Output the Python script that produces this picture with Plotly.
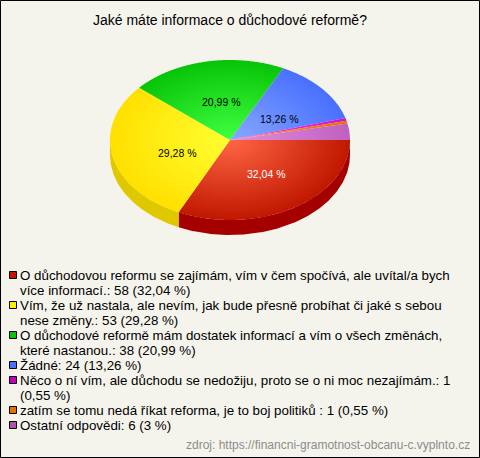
import math
import plotly.graph_objects as go

title = "Jaké máte informace o důchodové reformě?"
counts = [58, 53, 38, 24, 1, 1, 6]
pct_labels = ["32,04 %", "29,28 %", "20,99 %", "13,26 %"]
legend_lines = [
    ["O důchodovou reformu se zajímám, vím v čem spočívá, ale uvítal/a bych", "více informací.: 58 (32,04 %)"],
    ["Vím, že už nastala, ale nevím, jak bude přesně probíhat či jaké s sebou", "nese změny.: 53 (29,28 %)"],
    ["O důchodové reformě mám dostatek informací a vím o všech změnách,", "které nastanou.: 38 (20,99 %)"],
    ["Žádné: 24 (13,26 %)"],
    ["Něco o ní vím, ale důchodu se nedožiju, proto se o ni moc nezajímám.: 1", "(0,55 %)"],
    ["zatím se tomu nedá říkat reforma, je to boj politiků : 1 (0,55 %)"],
    ["Ostatní odpovědi: 6 (3 %)"],
]
source = "zdroj: https://financni-gramotnost-obcanu-c.vyplnto.cz"

inner = ["#FF6644", "#FFFF30", "#40FF40", "#88A8FF", "#FF40FF", "#FF9020", "#E090E0"]
outer = ["#C01800", "#FFE000", "#08C408", "#4870FF", "#D010D0", "#E87000", "#C060C0"]
swatch = ["#C01800", "#FFEE00", "#08C408", "#4870FF", "#C000C0", "#E87000", "#B050B0"]
side = ["#A50000", "#E0C800"]
text_col = ["#FFFFFF", "#000000", "#000000", "#000000"]

CX, CY, RX, RY, DEPTH = 230, 140, 120, 80, 15
LABEL_FX = [0.57, 0.447, 0.34, 0.54]
LABEL_FY = [0.50, 0.78, 0.48, 0.42]
BG = "#F5F4EC"
FONT = "Liberation Sans, Arial, sans-serif"

total = sum(counts)
edges = [0.0]
for c in counts:
    edges.append(edges[-1] + c / total * 2 * math.pi)


def arc(a0, a1, dy=0.0):
    n = max(2, int((a1 - a0) / 0.01))
    ts = [a0 + (a1 - a0) * i / n for i in range(n + 1)]
    return [CX + RX * math.cos(t) for t in ts], [CY + dy + RY * math.sin(t) for t in ts]


fig = go.Figure()

# side wall of the visible front half
for i in range(2):
    a0, a1 = edges[i], min(edges[i + 1], math.pi)
    x0, y0 = arc(a0, a1)
    x1, y1 = arc(a0, a1, DEPTH)
    fig.add_trace(go.Scatter(x=x0 + x1[::-1], y=y0 + y1[::-1], mode="lines", fill="toself",
                             fillcolor=side[i], line=dict(width=0, color=side[i]), hoverinfo="skip"))

# top face slices; the zero-area spurs stretch the gradient box to the whole ellipse
for i in range(len(counts)):
    ax, ay = arc(edges[i], edges[i + 1])
    xs = [CX, CX - RX, CX, CX + RX, CX] + ax + [CX]
    ys = [CY, CY - RY, CY, CY + RY, CY] + ay + [CY]
    fig.add_trace(go.Scatter(
        x=xs, y=ys, mode="lines", fill="toself",
        fillgradient=dict(type="radial", colorscale=[[0, inner[i]], [1, outer[i]]]),
        line=dict(width=0, simplify=False), hoverinfo="skip"))

annotations = [dict(x=CX + 0, y=20, text=title, showarrow=False, xref="x", yref="y",
                    font=dict(family=FONT, size=14, color="#000000"))]

for i, lab in enumerate(pct_labels):
    mid = (edges[i] + edges[i + 1]) / 2
    annotations.append(dict(
        x=CX + RX * LABEL_FX[i] * math.cos(mid), y=CY + RY * LABEL_FY[i] * math.sin(mid),
        text=lab, showarrow=False, xref="x", yref="y",
        font=dict(family=FONT, size=10.5, color=text_col[i])))

# legend
y = 275.5
sx, sy = [], []
for lines in legend_lines:
    sx.append(13)
    sy.append(round(y - 0.5))
    for k, ln in enumerate(lines):
        annotations.append(dict(x=18, y=y + k * 14.5, text=ln, showarrow=False, xanchor="left",
                                xref="x", yref="y", font=dict(family=FONT, size=13.33, color="#000000")))
    y += 15 * len(lines) if len(lines) == 1 else 30
fig.add_trace(go.Scatter(x=sx, y=sy, mode="markers", hoverinfo="skip",
                         marker=dict(symbol="square", size=7, color=swatch,
                                     line=dict(width=1, color="#000000"))))

annotations.append(dict(x=472, y=445, text=source, showarrow=False, xanchor="right", xref="x", yref="y",
                        font=dict(family=FONT, size=12, color="#8C8C8C")))

fig.update_layout(
    width=480, height=458, margin=dict(l=0, r=0, t=0, b=0), showlegend=False,
    paper_bgcolor=BG, plot_bgcolor=BG, annotations=annotations,
    xaxis=dict(range=[0, 480], visible=False, fixedrange=True),
    yaxis=dict(range=[458, 0], visible=False, fixedrange=True),
    shapes=[dict(type="rect", x0=0.5, x1=479.5, y0=0.5, y1=457.5, xref="x", yref="y",
                 line=dict(color="#000000", width=1))],
)
fig.write_html("out.html", config={"displayModeBar": False},
               post_script="document.body.style.margin='0';document.documentElement.style.overflow='hidden';")
